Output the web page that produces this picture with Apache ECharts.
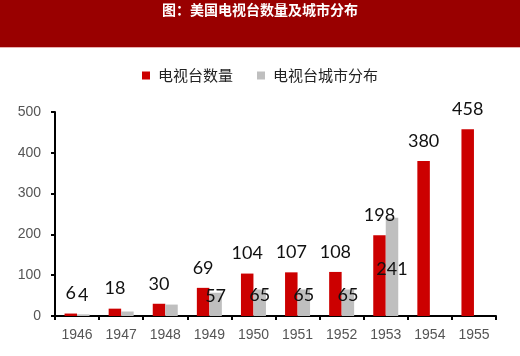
<!DOCTYPE html>
<html><head><meta charset="utf-8">
<script src="https://cdn.jsdelivr.net/npm/echarts@6/dist/echarts.min.js"></script>
<style>html,body{margin:0;padding:0;background:#fff}#c{width:520px;height:356px}</style>
</head><body><div id="c"></div>
<script>
const titleText = '图：美国电视台数量及城市分布';
const years = ['1946','1947','1948','1949','1950','1951','1952','1953','1954','1955'];
const stationCount = [6, 18, 30, 69, 104, 107, 108, 198, 380, 458];
const cityCount = [4, 11, 28, 57, 65, 65, 65, 241, null, null];
const seriesNames = ['电视台数量', '电视台城市分布'];
const yTicks = [0, 100, 200, 300, 400, 500];

// label placement style for the gray series (null = no label)
const cityLabelShift = [-33, null, null, -11, -8, -8, -8, 38, null, null];

const chart = echarts.init(document.getElementById('c'), null, {renderer: 'canvas'});
const labelFont = {fontFamily: 'Lato', fontSize: 18, color: '#111'};
chart.setOption({
  animation: false,
  backgroundColor: '#fff',
  graphic: [
    {type: 'rect', left: 0, top: 0, shape: {width: 520, height: 47}, style: {fill: '#990000'}, z: -1},
    {type: 'rect', left: 0, top: 47, shape: {width: 520, height: 1}, style: {fill: '#e8b0b0'}, z: -1}
  ],
  title: {
    text: titleText, left: 'center', top: -2,
    textStyle: {color: '#fff', fontSize: 14, fontWeight: 'bold', fontFamily: 'Noto Sans CJK SC'}
  },
  legend: {
    data: seriesNames, top: 63, left: 'center', itemWidth: 8, itemHeight: 8, itemGap: 24,
    icon: 'rect',
    textStyle: {fontFamily: 'Noto Sans CJK SC', fontSize: 15, color: '#222', padding: [0,0,0,3]}
  },
  grid: {left: 55, right: 24, top: 112, bottom: 40},
  xAxis: {
    type: 'category', data: years,
    axisLine: {lineStyle: {color: '#000', width: 2}},
    axisTick: {show: true, length: 4, lineStyle: {color: '#000', width: 2}},
    axisLabel: {fontFamily: 'Liberation Sans', fontSize: 14, color: '#555', margin: 12}
  },
  yAxis: {
    type: 'value', min: yTicks[0], max: yTicks[yTicks.length-1], interval: yTicks[1]-yTicks[0],
    splitLine: {show: false},
    axisLine: {show: true, lineStyle: {color: '#000', width: 2}},
    axisTick: {show: true, length: 4, lineStyle: {color: '#000', width: 2}},
    axisLabel: {fontFamily: 'Liberation Sans', fontSize: 14, color: '#555', margin: 14}
  },
  series: [
    {
      name: seriesNames[0], type: 'bar', data: stationCount, barWidth: 12.5, barGap: '0%',
      itemStyle: {color: '#cc0000'},
      label: Object.assign({show: true, position: 'top', distance: 11}, labelFont)
    },
    {
      name: seriesNames[1], type: 'bar', data: cityCount.map((v, i) => ({
        value: v,
        label: cityLabelShift[i] === null ? {show: false} :
          Object.assign({show: true, position: 'insideTop', offset: [0, cityLabelShift[i]]}, labelFont)
      })), barWidth: 12.5,
      itemStyle: {color: '#bfbfbf'}
    }
  ]
});
</script></body></html>
